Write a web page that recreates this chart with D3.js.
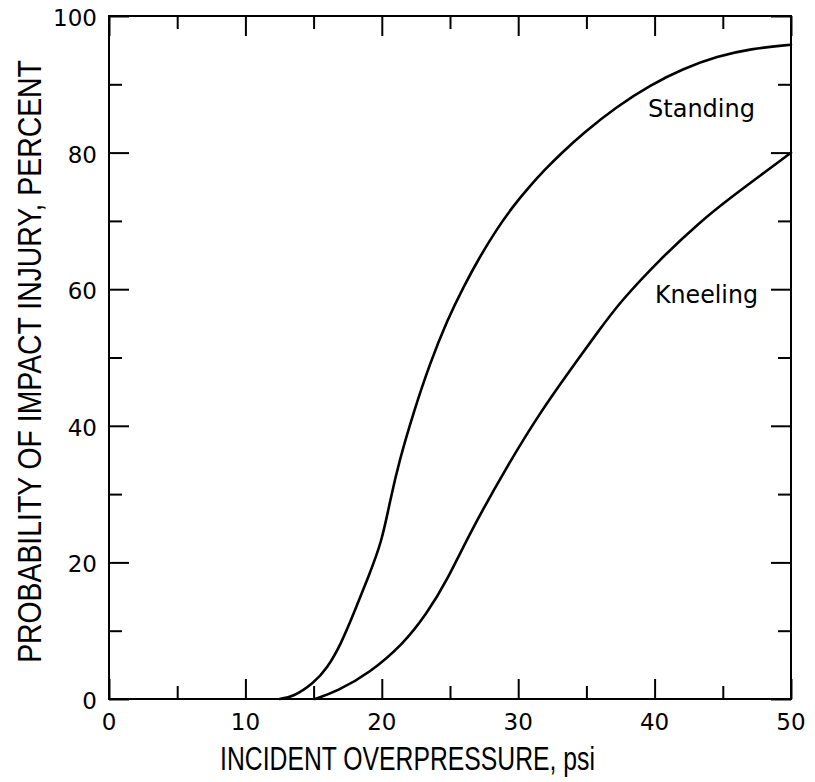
<!DOCTYPE html>
<html>
<head>
<meta charset="utf-8">
<script src="https://cdn.jsdelivr.net/npm/d3@7"></script>
<style>
  html, body { margin: 0; padding: 0; background: #fff; }
  svg { display: block; }
</style>
</head>
<body>
<script>
// ---- data ----
const standingX = [12.5, 13.5, 15, 16, 17, 18, 19, 20, 20.6, 21.3, 22.3, 23.5, 24.8, 26, 27.2, 28.4, 29.6, 30.9, 32, 33.1, 34.8, 37.2, 39.7, 42.1, 44.6, 47, 50];
const standingY = [0, 0.3, 2.3, 4.5, 8, 12.8, 17.8, 23, 29, 35, 41.8, 49, 55.5, 60.4, 64.8, 68.7, 72.1, 75.2, 77.6, 79.8, 82.9, 86.7, 89.9, 92.3, 94.1, 95.2, 95.8];
const kneelingX = [15.1, 16.7, 19.1, 21.6, 23.3, 24.8, 26.5, 29.3, 31.6, 33.5, 36, 37.5, 40.4, 43.3, 45.5, 48.2, 50];
const kneelingY = [0, 1.1, 3.8, 8.1, 12.5, 17.4, 24.5, 34.5, 41.9, 47.3, 54.2, 58.2, 64.4, 69.8, 73.3, 77.3, 80];
const xTickLabels = [0, 10, 20, 30, 40, 50];
const xMinorTicks = [5, 15, 25, 35, 45];
const yTickLabels = [0, 20, 40, 60, 80, 100];
const yMinorTicks = [10, 30, 50, 70, 90];
const xTitle = "INCIDENT OVERPRESSURE, psi";
const yTitle = "PROBABILITY OF IMPACT INJURY, PERCENT";
const seriesNames = ["Standing", "Kneeling"];

(function () {
// ---- layout ----
const W = 815, H = 782;
const pL = 109, pR = 791, pT = 16, pB = 699;
const svg = d3.select("body").append("svg").attr("width", W).attr("height", H);

const x = d3.scaleLinear().domain([0, 50]).range([pL, pR]);
const y = d3.scaleLinear().domain([0, 100]).range([pB, pT]);

const ink = "#000";
const MAJ = 20, MIN = 13;

function styleAxis(g) {
  g.select(".domain").remove();
  g.selectAll(".tick line").attr("stroke", ink).attr("stroke-width", 2);
  g.selectAll(".tick text").remove();
}

// bottom
svg.append("g").attr("transform", `translate(0,${pB})`)
  .call(d3.axisBottom(x).tickValues(xTickLabels).tickSizeInner(-MAJ).tickSizeOuter(0)).call(styleAxis);
svg.append("g").attr("transform", `translate(0,${pB})`)
  .call(d3.axisBottom(x).tickValues(xMinorTicks).tickSizeInner(-MIN).tickSizeOuter(0)).call(styleAxis);
// top
svg.append("g").attr("transform", `translate(0,${pT})`)
  .call(d3.axisTop(x).tickValues(xTickLabels).tickSizeInner(-MAJ).tickSizeOuter(0)).call(styleAxis);
svg.append("g").attr("transform", `translate(0,${pT})`)
  .call(d3.axisTop(x).tickValues(xMinorTicks).tickSizeInner(-MIN).tickSizeOuter(0)).call(styleAxis);
// left
svg.append("g").attr("transform", `translate(${pL},0)`)
  .call(d3.axisLeft(y).tickValues(yTickLabels).tickSizeInner(-MAJ).tickSizeOuter(0)).call(styleAxis);
svg.append("g").attr("transform", `translate(${pL},0)`)
  .call(d3.axisLeft(y).tickValues(yMinorTicks).tickSizeInner(-MIN).tickSizeOuter(0)).call(styleAxis);
// right
svg.append("g").attr("transform", `translate(${pR},0)`)
  .call(d3.axisRight(y).tickValues(yTickLabels).tickSizeInner(-MAJ).tickSizeOuter(0)).call(styleAxis);
svg.append("g").attr("transform", `translate(${pR},0)`)
  .call(d3.axisRight(y).tickValues(yMinorTicks).tickSizeInner(-MIN).tickSizeOuter(0)).call(styleAxis);

// frame
svg.append("rect")
  .attr("x", x(0)).attr("y", y(100))
  .attr("width", x(50) - x(0)).attr("height", y(0) - y(100))
  .attr("fill", "none").attr("stroke", ink).attr("stroke-width", 2);

// tick labels
const tickFont = "'DejaVu Sans', sans-serif";
svg.append("g").selectAll("text").data(xTickLabels).join("text")
  .attr("x", d => x(d)).attr("y", 730)
  .attr("text-anchor", "middle")
  .attr("font-family", tickFont).attr("font-size", 23).attr("fill", ink)
  .text(d => d);
svg.append("g").selectAll("text").data(yTickLabels).join("text")
  .attr("x", 97).attr("y", d => y(d) + 10)
  .attr("text-anchor", "end")
  .attr("font-family", tickFont).attr("font-size", 23).attr("fill", ink)
  .text(d => d);

// axis titles (condensed horizontally with a scale transform to the target length)
const titleFont = "'Liberation Sans', Arial, sans-serif";
const xt = svg.append("text")
  .attr("text-anchor", "middle")
  .attr("font-family", titleFont).attr("font-size", 34).attr("fill", ink)
  .text(xTitle);
const xtLen = xt.node().getComputedTextLength();
xt.attr("transform", `translate(407.5,770) scale(${375 / xtLen},1)`);

const yt = svg.append("text")
  .attr("text-anchor", "middle")
  .attr("font-family", titleFont).attr("font-size", 33).attr("fill", ink)
  .text(yTitle);
const ytLen = yt.node().getComputedTextLength();
yt.attr("transform", `translate(41,361.5) rotate(-90) scale(${603 / ytLen},1)`);

// curves
const line = d3.line().x(d => x(d[0])).y(d => y(d[1])).curve(d3.curveBasis);
const standing = standingX.map((v, i) => [v, standingY[i]]);
const kneeling = kneelingX.map((v, i) => [v, kneelingY[i]]);
[standing, kneeling].forEach(s => {
  svg.append("path").datum(s).attr("d", line)
    .attr("fill", "none").attr("stroke", ink).attr("stroke-width", 2.6)
    .attr("stroke-linejoin", "round").attr("stroke-linecap", "round");
});

// curve labels
svg.append("text").attr("x", 648).attr("y", 117)
  .attr("font-family", tickFont).attr("font-size", 24).attr("fill", ink)
  .attr("textLength", 107).attr("lengthAdjust", "spacingAndGlyphs")
  .text(seriesNames[0]);
svg.append("text").attr("x", 655).attr("y", 303)
  .attr("font-family", tickFont).attr("font-size", 24).attr("fill", ink)
  .attr("textLength", 103).attr("lengthAdjust", "spacingAndGlyphs")
  .text(seriesNames[1]);
})();
</script>
</body>
</html>
